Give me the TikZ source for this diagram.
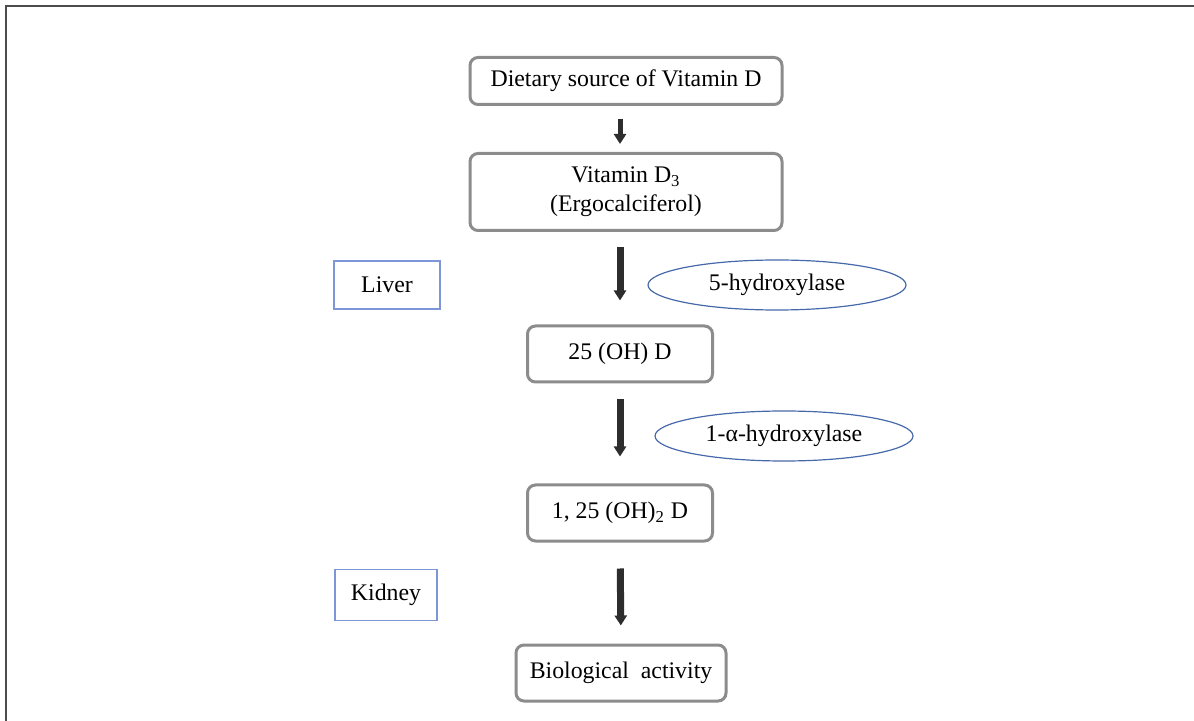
\documentclass[tikz,border=0pt]{standalone}
\usepackage{fontspec}
\setmainfont{Liberation Serif}
\usetikzlibrary{arrows.meta,positioning,shapes.geometric}
\definecolor{boxgray}{RGB}{140,140,140}
\definecolor{organblue}{RGB}{125,150,215}
\definecolor{enzblue}{RGB}{70,105,170}
\definecolor{arrowdark}{RGB}{45,45,45}

\begin{document}
\begin{tikzpicture}[x=0.5pt,y=-0.5pt,font=\fontsize{11.9}{14.5}\selectfont,
    stepbox/.style={draw=boxgray,line width=1.5pt,rounded corners=4pt,fill=white,align=center,inner sep=0pt},
    organ/.style={draw=organblue,line width=0.6pt,inner sep=0pt},
    enzyme/.style={ellipse,draw=enzblue,line width=0.6pt,minimum width=129pt,minimum height=25pt,inner sep=0pt},
    flow/.style={arrowdark,line width=3.5pt,-{Triangle[width=6pt,length=5pt]}}]
    \useasboundingbox (0,0) rectangle (1194,721);
    \draw[gray!60!black,line width=1pt] (5.5,721) -- (5.5,6.5) -- (1194,6.5);

    % main steps
    \node[stepbox,minimum width=156pt,minimum height=23.5pt] (diet) at (626,81) {Dietary source of Vitamin D};
    \node[stepbox,minimum width=156pt,minimum height=38.5pt] (vitd) at (626,192) {Vitamin D\textsubscript{3}\\(Ergocalciferol)};
    \node[stepbox,minimum width=92.5pt,minimum height=28pt] (calcidiol) at (620,354) {25 (OH) D};
    \node[stepbox,minimum width=92.5pt,minimum height=28pt] (calcitriol) at (620,513) {1, 25 (OH)\textsubscript{2} D};
    \node[stepbox,minimum width=105pt,minimum height=28pt] (bio) at (621,673) {Biological\ \ activity};

    % organs and enzymes
    \node[organ,minimum width=53pt,minimum height=24pt] (liver) at (387,285) {Liver};
    \node[organ,minimum width=51pt,minimum height=25.5pt] (kidney) at (386,595) {Kidney};
    \node[enzyme] (hyd5) at (777,285) {5-hydroxylase};
    \node[enzyme] (hyd1) at (784,436) {1-α-hydroxylase};

    \draw[flow,line width=2.5pt,shorten <=6.5pt,shorten >=4pt] ([xshift=-3pt]diet.south) -- ([xshift=-3pt]vitd.north);
    \draw[flow,shorten <=7.5pt,shorten >=12pt] ([xshift=-3pt]vitd.south) -- (calcidiol.north);
    \draw[flow,shorten <=8pt,shorten >=13.5pt] (calcidiol.south) -- (calcitriol.north);
    \draw[flow,shorten <=13pt,shorten >=9pt] (calcitriol.south) -- (bio.north);
  \end{tikzpicture}
\end{document}
